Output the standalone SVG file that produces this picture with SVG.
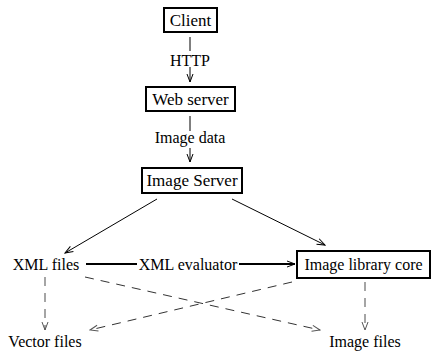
<svg xmlns="http://www.w3.org/2000/svg" width="432" height="353" viewBox="0 0 432 353">
<style>
.t{font-family:"Liberation Serif","Times New Roman",serif;font-size:16px;fill:#000;text-anchor:middle}
.tb{font-size:17px}
.box{fill:#fff;stroke:#000;stroke-width:2}
.ln{fill:none;stroke:#000;stroke-width:1}
.thick{fill:none;stroke:#000;stroke-width:2}
.dash{fill:none;stroke:#333;stroke-width:1;stroke-dasharray:9,7}
.dashg{fill:none;stroke:#888;stroke-width:1.5;stroke-dasharray:9,7}
.bg{fill:#fff}
</style>
<defs>
<marker id="ah" markerWidth="10" markerHeight="8" refX="9" refY="4" orient="auto" markerUnits="userSpaceOnUse">
<path d="M1,1 L9,4 L1,7" fill="none" stroke="#000" stroke-width="1"/>
</marker>
<marker id="ahg" markerWidth="10" markerHeight="8" refX="9" refY="4" orient="auto" markerUnits="userSpaceOnUse">
<path d="M1,1 L9,4 L1,7" fill="none" stroke="#555" stroke-width="1"/>
</marker>
</defs>
<g id="connectors">
<line class="ln" x1="190" y1="37" x2="190" y2="82" marker-end="url(#ah)"/>
<rect class="bg" x="168" y="51" width="44" height="16"/>
<text class="t" x="190" y="66">HTTP</text>
<line class="ln" x1="190" y1="116" x2="190" y2="162" marker-end="url(#ah)"/>
<rect class="bg" x="152" y="131" width="76" height="17"/>
<text class="t" x="190" y="143">Image data</text>
<line class="ln" x1="157" y1="199" x2="65" y2="253" marker-end="url(#ah)"/>
<line class="ln" x1="232" y1="199" x2="325" y2="245" marker-end="url(#ah)"/>
<line class="thick" x1="86" y1="264" x2="295" y2="264" marker-end="url(#ah)"/>
<rect class="bg" x="137" y="256" width="102" height="16"/>
<text class="t" x="188" y="270">XML evaluator</text>
<line class="dashg" x1="45" y1="277" x2="45" y2="330" marker-end="url(#ahg)"/>
<line class="dash" x1="85" y1="277" x2="320" y2="330" marker-end="url(#ahg)"/>
<line class="dash" x1="292" y1="282" x2="90" y2="330" marker-end="url(#ahg)"/>
<line class="dashg" x1="365" y1="282" x2="365" y2="330" marker-end="url(#ahg)"/>
</g>
<g id="client"><rect class="box" x="164" y="8" width="53" height="24"/><text class="t tb" x="190.5" y="26">Client</text></g>
<g id="webserver"><rect class="box" x="146" y="87" width="89" height="24"/><text class="t tb" x="190.5" y="105">Web server</text></g>
<g id="imageserver"><rect class="box" x="142" y="168" width="100" height="25"/><text class="t tb" x="192" y="186">Image Server</text></g>
<g id="xmlfiles"><text class="t" x="46" y="270">XML files</text></g>
<g id="imagelib"><rect class="box" x="297" y="251" width="133" height="27"/><text class="t" x="363.5" y="270">Image library core</text></g>
<g id="vectorfiles"><text class="t" x="45" y="347">Vector files</text></g>
<g id="imagefiles"><text class="t" x="365" y="347">Image files</text></g>
</svg>
